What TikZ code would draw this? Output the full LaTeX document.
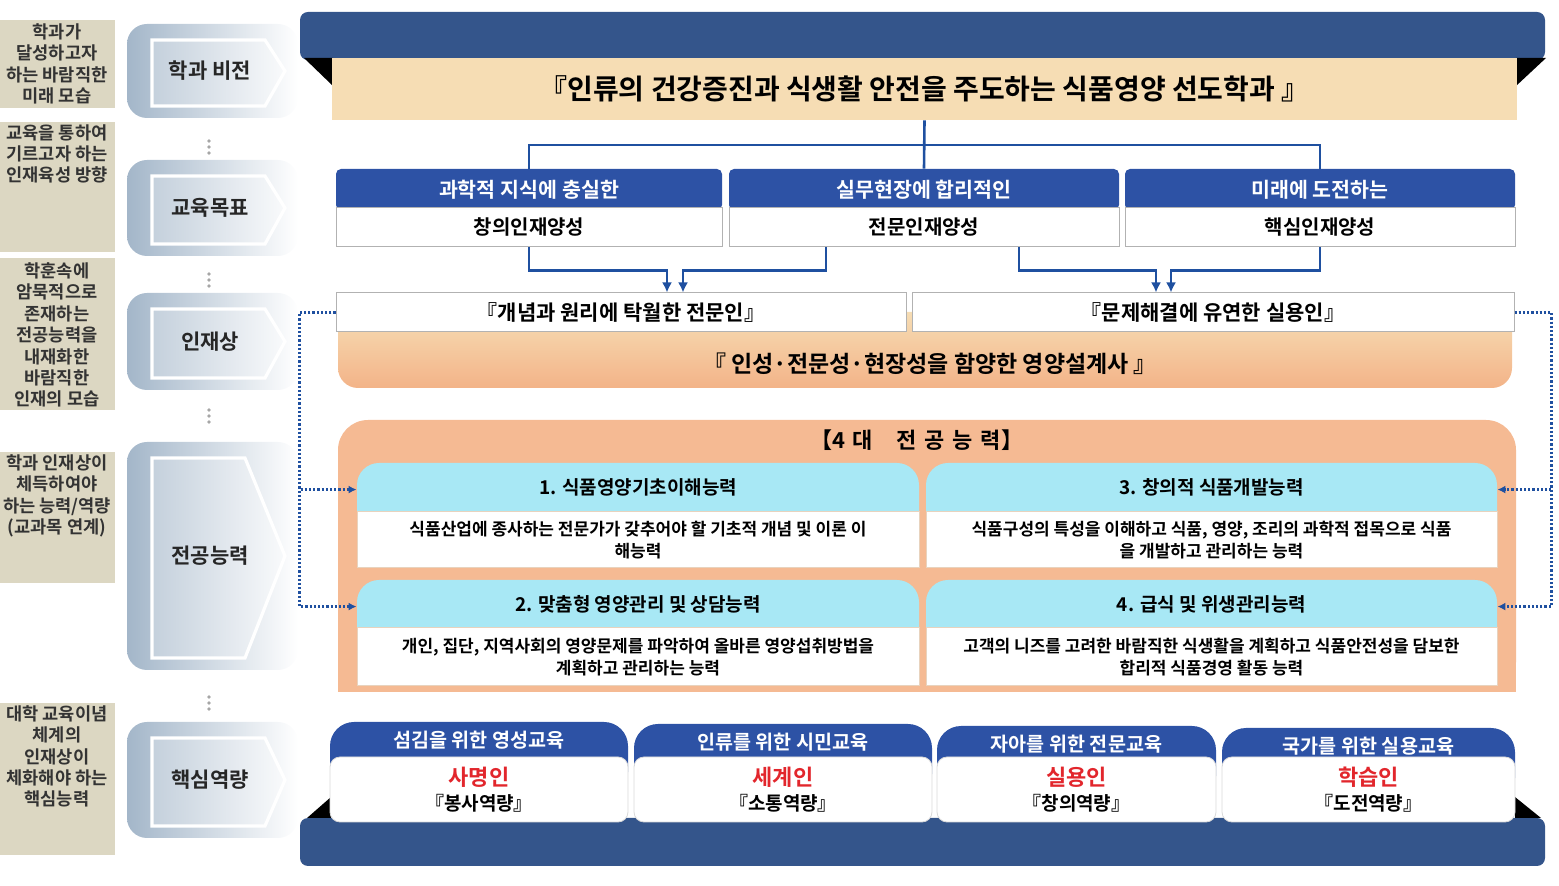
\documentclass[tikz,border=0pt]{standalone}
\usepackage{fontspec}
\setmainfont{Noto Sans CJK KR}[BoldFont={Noto Sans CJK KR Bold}]
\usetikzlibrary{arrows.meta}

\definecolor{navy}{HTML}{34558B}
\definecolor{objblue}{HTML}{2D52A5}
\definecolor{tanbar}{HTML}{F6DDB4}
\definecolor{bandlow}{HTML}{F3B388}
\definecolor{salmon}{HTML}{F5BA93}
\definecolor{cyanhead}{HTML}{A8E8F5}
\definecolor{notebg}{HTML}{DCD7C2}
\definecolor{stageL}{HTML}{A3B6C9}
\definecolor{stageI}{HTML}{C4D0DC}
\definecolor{linkblue}{HTML}{1F50A0}
\definecolor{corered}{HTML}{E2262C}
\definecolor{tanline}{HTML}{E8D3BE}

\tikzset{
  note/.style={font=\bfseries\fontsize{8.8}{10.7}\selectfont, text=black!80, align=center, inner sep=0pt},
  stagelabel/.style={font=\bfseries\fontsize{10.5}{12}\selectfont, text=black!85},
  objhead/.style={fill=objblue, text=white, rounded corners=2.5pt, minimum width=#1,
    minimum height=20.5pt, inner sep=0pt, font=\bfseries\fontsize{10.3}{12}\selectfont},
  objbody/.style={fill=white, draw=gray!60, line width=0.5pt, minimum width=#1,
    minimum height=19.5pt, inner sep=0pt, font=\bfseries\fontsize{10}{12}\selectfont},
  talbox/.style={fill=white, draw=gray!60, line width=0.5pt, minimum width=#1,
    minimum height=19.5pt, inner sep=0pt, font=\bfseries\fontsize{10.5}{12}\selectfont},
  bandtext/.style={font=\bfseries\fontsize{11.5}{13}\selectfont},
  comptitle/.style={font=\bfseries\fontsize{11}{12}\selectfont},
  link/.style={draw=linkblue, line width=1.3pt},
  flow/.style={link, -{Latex[length=5pt,width=5pt]}},
  dotlink/.style={draw=linkblue, line width=1.1pt, densely dotted, -{Latex[length=4pt,width=4pt]}},
  comphead/.style={fill=cyanhead, rounded corners=11pt, minimum width=#1, inner sep=0pt,
    text height=16pt, text depth=22.5pt, font=\bfseries\fontsize{9.5}{11}\selectfont},
  compbody/.style={fill=white, draw=tanline, line width=0.5pt, minimum width=#1,
    minimum height=28pt, inner sep=0pt, align=center, font=\bfseries\fontsize{8.5}{11}\selectfont},
  corehead/.style={fill=objblue, text=white, rounded corners=12pt, minimum width=#1, inner sep=0pt,
    text height=13pt, text depth=24pt, font=\bfseries\fontsize{9.8}{11}\selectfont},
  corebody/.style={fill=white, draw=gray!30, rounded corners=5pt, minimum width=#1,
    minimum height=32.5pt, inner sep=0pt, align=center, font=\bfseries\fontsize{9.5}{12.5}\selectfont},
}

\begin{document}
\begin{tikzpicture}[x=0.5pt,y=-0.5pt]
\useasboundingbox (0,0) rectangle (1559,886);

% left notes
\foreach \ya/\yb in {20/108,122/252,258/410,452/583,703/855}
  \fill[notebg] (0,\ya) rectangle (115,\yb);
\node[note] (n1) at (57,64) {학과가\\달성하고자\\하는 바람직한\\미래 모습};
\node[note, anchor=north] (n2) at (57,124) {교육을 통하여\\기르고자 하는\\인재육성 방향};
\node[note] (n3) at (57,335) {학훈속에\\암묵적으로\\존재하는\\전공능력을\\내재화한\\바람직한\\인재의 모습};
\node[note, anchor=north] (n4) at (57,454) {학과 인재상이\\체득하여야\\하는 능력/역량\\(교과목 연계)};
\node[note, anchor=north] (n5) at (57,705) {대학 교육이념\\체계의\\인재상이\\체화해야 하는\\핵심능력};

% stages
\foreach \ya/\yb/\cx/\lab/\nm in {24/118/265/학과 비전/lv1, 160/256/265/교육목표/lv2,
    293/390/265/인재상/lv3, 442/670/245/전공능력/lv4, 722/838/265/핵심역량/lv5}
{
  \shade[left color=stageL, right color=white, rounded corners=10pt] (127,\ya) rectangle (298,\yb);
  \shade[left color=stageI, right color=white!90!stageI, draw=white, line width=1.6pt]
    (152,\ya+16) -- (\cx,\ya+16) -- (285,{(\ya+\yb)/2}) -- (\cx,\yb-12) -- (152,\yb-12) -- cycle;
  \node[stagelabel] (\nm) at (210,{(\ya+\yb)/2}) {\lab};
}
\foreach \yd in {147,280,416,703}
  \foreach \k in {-6,0,6}
    \fill[gray!70] (209,\yd+\k) circle (0.9pt);

% vision banner
\fill[navy, rounded corners=4pt] (300,12) rectangle (1545,60);
\fill[black] (304,58) -- (333,58) -- (333,86) -- cycle;
\fill[black] (1516,58) -- (1546,58) -- (1516,86) -- cycle;
\node[fill=tanbar, minimum width=592.5pt, minimum height=31pt, inner sep=0pt,
  font=\bfseries\fontsize{14}{16}\selectfont] (vision) at (924.5,89)
  {『인류의 건강증진과 식생활 안전을 주도하는 식품영양 선도학과 』};

% objectives
\node[objhead=193pt] (objAh) at (529,189.5) {과학적 지식에 충실한};
\node[objbody=193pt] (objA) at (529,227.5) {창의인재양성};
\node[objhead=195pt] (objBh) at (924,189.5) {실무현장에 합리적인};
\node[objbody=195pt] (objB) at (924,227.5) {전문인재양성};
\node[objhead=195pt] (objCh) at (1320,189.5) {미래에 도전하는};
\node[objbody=195pt] (objC) at (1320,227.5) {핵심인재양성};

\coordinate (split) at (924,145);
\draw[link] (vision.south) -- (objBh.north);
\draw[link] (objAh.north) |- (split) -| (objCh.north);

% talents
\shade[top color=tanbar, bottom color=bandlow, rounded corners=10pt] (338,312) rectangle (1512,388);
\node[talbox=285pt] (talL) at (621,312.5) {『개념과 원리에 탁월한 전문인』};
\node[talbox=301pt] (talR) at (1213,312.5) {『문제해결에 유연한 실용인』};
\node[bandtext] (ideal) at (930,364) {『 인성·전문성·현장성을 함양한 영양설계사 』};

\path (talL.north) ++(46,0) coordinate (tL1) ++(16,0) coordinate (tL2);
\path (talR.north) ++(-57,0) coordinate (tR1) ++(15,0) coordinate (tR2);
\draw[flow] (objA.south) -- ++(0,23) -| (tL1);
\draw[flow] ([xshift=-49pt]objB.south) -- ++(0,23) -| (tL2);
\draw[flow] ([xshift=47.5pt]objB.south) -- ++(0,23) -| (tR1);
\draw[flow] (objC.south) -- ++(0,23) -| (tR2);

% major competencies
\fill[salmon, rounded corners=15pt] (338,420) rectangle (1516,692);
\fill[salmon] (338,640) rectangle (1516,692);
\node[comptitle] (title) at (917,440)
  {【4\hspace{.3em}대\hspace{1.1em}전\hspace{.35em}공\hspace{.35em}능\hspace{.35em}력】};

\node[comphead=281pt] (c1h) at (638,501.5) {1. 식품영양기초이해능력};
\node[compbody=281pt] (c1b) at (638,540)
  {식품산업에 종사하는 전문가가 갖추어야 할 기초적 개념 및 이론 이\\해능력};
\node[comphead=285.5pt] (c3h) at (1211.5,501.5) {3. 창의적 식품개발능력};
\node[compbody=285.5pt] (c3b) at (1211.5,540)
  {식품구성의 특성을 이해하고 식품, 영양, 조리의 과학적 접목으로 식품\\을 개발하고 관리하는 능력};
\node[comphead=281pt] (c2h) at (638,618.5) {2. 맞춤형 영양관리 및 상담능력};
\node[compbody=281pt, minimum height=29pt] (c2b) at (638,657)
  {개인, 집단, 지역사회의 영양문제를 파악하여 올바른 영양섭취방법을\\계획하고 관리하는 능력};
\node[comphead=285.5pt] (c4h) at (1211.5,618.5) {4. 급식 및 위생관리능력};
\node[compbody=285.5pt, minimum height=29pt] (c4b) at (1211.5,657)
  {고객의 니즈를 고려한 바람직한 식생활을 계획하고 식품안전성을 담보한\\합리적 식품경영 활동 능력};

\draw[dotlink] (talL.west) -- ++(-36,0) |- (c1h.mid west);
\draw[dotlink] (talL.west) -- ++(-36,0) |- (c2h.mid west);
\draw[dotlink] (talR.east) -- ++(37,0) |- (c3h.mid east);
\draw[dotlink] (talR.east) -- ++(37,0) |- (c4h.mid east);

% core competencies
\fill[navy, rounded corners=4pt] (300,818) rectangle (1545,866);
\fill[black] (307,818) -- (331,797) -- (331,818) -- cycle;
\fill[black] (1515,797) -- (1541,818) -- (1515,818) -- cycle;
\node[corehead=149pt] (k1h) at (479,759) {섬김을 위한 영성교육};
\node[corehead=149pt] (k2h) at (783,761) {인류를 위한 시민교육};
\node[corehead=139.5pt] (k3h) at (1076.5,763) {자아를 위한 전문교육};
\node[corehead=146.5pt] (k4h) at (1368.5,765) {국가를 위한 실용교육};
\node[corebody=149pt] (k1) at (479,789.5)
  {{\color{corered}\fontsize{11}{12}\selectfont 사명인}\\『봉사역량』};
\node[corebody=149pt] (k2) at (783,789.5)
  {{\color{corered}\fontsize{11}{12}\selectfont 세계인}\\『소통역량』};
\node[corebody=139.5pt] (k3) at (1076.5,789.5)
  {{\color{corered}\fontsize{11}{12}\selectfont 실용인}\\『창의역량』};
\node[corebody=146.5pt] (k4) at (1368.5,789.5)
  {{\color{corered}\fontsize{11}{12}\selectfont 학습인}\\『도전역량』};
\end{tikzpicture}
\end{document}
